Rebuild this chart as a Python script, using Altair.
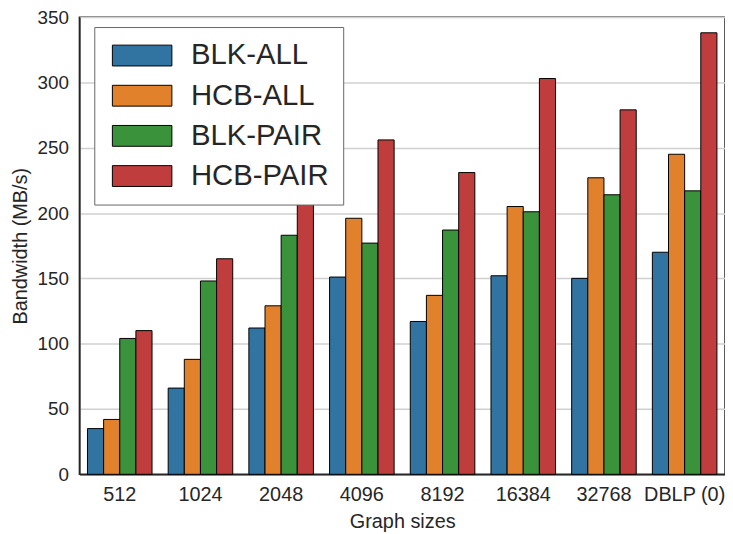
import altair as alt
import pandas as pd

groups = ["512", "1024", "2048", "4096", "8192", "16384", "32768", "DBLP (0)"]
series = ["BLK-ALL", "HCB-ALL", "BLK-PAIR", "HCB-PAIR"]
blk_all = [35, 66, 112, 151, 117, 152, 150, 170]
hcb_all = [42, 88, 129, 196, 137, 205, 227, 245]
blk_pair = [104, 148, 183, 177, 187, 201, 214, 217]
hcb_pair = [110, 165, 215, 256, 231, 303, 279, 338]
colors = ["#3274a1", "#e1812c", "#3a923a", "#c03d3e"]
y_ticks = [0, 50, 100, 150, 200, 250, 300, 350]

rows = []
for s, vals in zip(series, [blk_all, hcb_all, blk_pair, hcb_pair]):
    for g, v in zip(groups, vals):
        rows.append({"group": g, "series": s, "value": v})
df = pd.DataFrame(rows)

FONT = "Liberation Sans"
TXT = "#262626"

chart = alt.Chart(df).mark_bar(stroke="black", strokeWidth=1).encode(
    x=alt.X(
        "group:N", sort=groups, title="Graph sizes",
        scale=alt.Scale(paddingInner=0.2, paddingOuter=0.1),
        axis=alt.Axis(labelAngle=0, ticks=False, labelPadding=10, labelFontSize=20,
                      titleFontSize=20, titlePadding=8, labelColor=TXT, titleColor=TXT,
                      labelFont=FONT, titleFont=FONT, titleFontWeight="normal",
                      domainColor=TXT, domainWidth=1.5),
    ),
    xOffset=alt.XOffset("series:N", sort=series, scale=alt.Scale(paddingInner=0, paddingOuter=0)),
    y=alt.Y(
        "value:Q", title="Bandwidth (MB/s)",
        scale=alt.Scale(domain=[0, 350], nice=False),
        axis=alt.Axis(values=y_ticks, ticks=False, labelPadding=11, labelFontSize=19,
                      titleFontSize=20, titlePadding=7, labelColor=TXT, titleColor=TXT,
                      labelFont=FONT, titleFont=FONT, titleFontWeight="normal",
                      grid=True, gridColor="#d0d0d0", gridWidth=1.5,
                      domainColor=TXT, domainWidth=1.5),
    ),
    color=alt.Color(
        "series:N", sort=series,
        scale=alt.Scale(domain=series, range=colors),
        legend=alt.Legend(
            title=None, orient="none", legendX=15, legendY=10,
            symbolType="M-1,-1H4.714V1H-1Z", symbolSize=441,
            symbolStrokeColor="black", symbolStrokeWidth=1, symbolOpacity=1,
            labelFontSize=29.5, labelFont=FONT, labelColor=TXT, labelOffset=54,
            rowPadding=9.5, padding=14, strokeColor="#666666", fillColor="white",
        ),
    ),
).properties(
    width=651, height=461,
    autosize=alt.AutoSizeParams(type="none"),
    padding={"left": 72, "top": 7, "right": 0, "bottom": 58},
).configure_view(stroke=TXT, strokeWidth=1.5)

chart.save("out.html", embed_options={"renderer": "svg", "actions": False})
